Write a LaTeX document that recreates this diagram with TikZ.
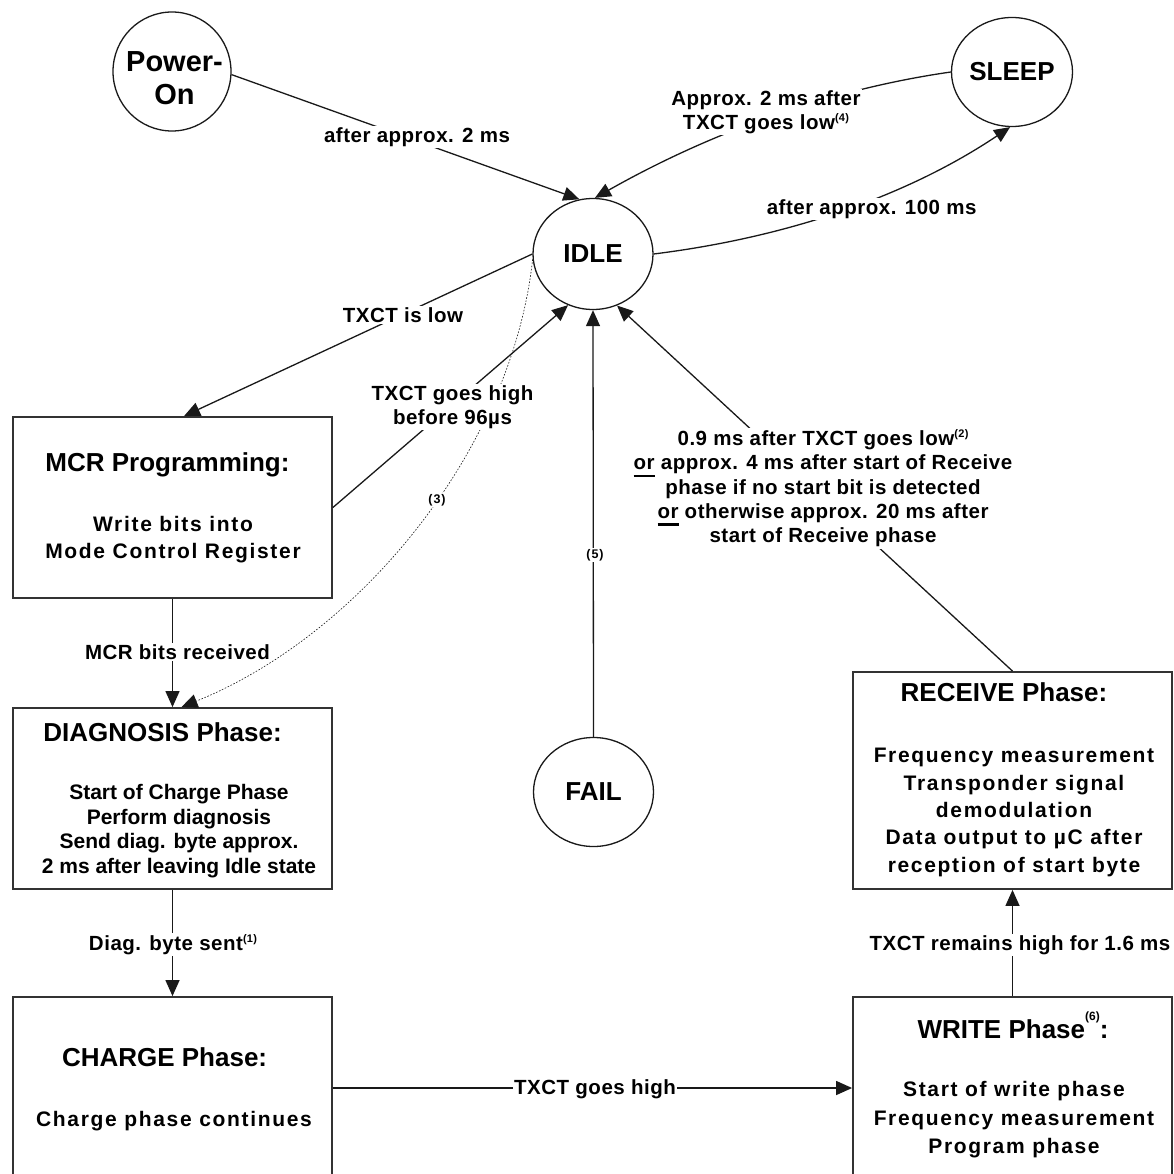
\documentclass[tikz,border=0pt]{standalone}
\usepackage{fontspec}
\setmainfont{Liberation Sans}
\newfontfamily\bodyspaced[LetterSpace=8]{Liberation Sans}
\newfontfamily\labelspaced[LetterSpace=2.5]{Liberation Sans}
\usetikzlibrary{arrows.meta,shapes.geometric}
\newcommand\sups[2][7.5pt]{\raisebox{#1}{\fontsize{11}{11}\selectfont #2}}
\newcommand\supsix[1]{\raisebox{17.5pt}{\fontsize{12}{12}\selectfont #1}}
\newcommand\ulw[1]{\setbox0=\hbox{#1}\rlap{\rule[-7.2pt]{\wd0}{2.4pt}}\box0\relax}
\begin{document}
\begin{tikzpicture}[x=1pt,y=-1pt,
  statenode/.style={ellipse, draw=black!90, line width=1.3pt, inner sep=0pt, font=\bfseries\fontsize{26}{30}\selectfont},
  phasebox/.style={rectangle, draw=black!80, line width=1.8pt, inner sep=0pt},
  conn/.style={draw=black!90, line width=1.3pt, -{Triangle[length=16pt,width=14pt]}},
  dotconn/.style={draw=black!90, line width=0.6pt, dash pattern=on 1.6pt off 1.6pt, -{Triangle[length=16pt,width=14pt]}},
  titletext/.style={anchor=base, inner sep=0pt, font=\bfseries\fontsize{26}{30}\selectfont},
  bodytext/.style={anchor=north, inner sep=0pt, align=center, font=\bfseries\fontsize{21}{#1}\selectfont},
  bodytext/.default=26pt,
  spacedbody/.style={anchor=north, inner sep=0pt, align=center, font=\bodyspaced\bfseries\fontsize{21}{#1}\selectfont},
  spacedbody/.default=26pt,
  elabel/.style={fill=white, inner sep=1.5pt, align=center, font=\labelspaced\bfseries\fontsize{20.5}{#1}\selectfont},
  elabel/.default=24.4pt,
  smalllabel/.style={fill=white, inner sep=1pt, font=\bodyspaced\bfseries\fontsize{12.5}{14}\selectfont}
]
\useasboundingbox (0,0) rectangle (1173,1174);

% states
\node[statenode, minimum width=118pt, minimum height=119pt] (pwr) at (172,71.5) {};
\node[statenode, minimum width=121pt, minimum height=109pt] (sleep) at (1012,72) {SLEEP};
\node[statenode, minimum width=120pt, minimum height=111pt] (idle) at (593,254) {IDLE};
\node[statenode, minimum width=120pt, minimum height=109pt] (fail) at (593.5,792) {FAIL};
\node[font=\bfseries\fontsize{29}{33.3}\selectfont, align=center, inner sep=0pt, anchor=north] (pwrtext) at (174.5,50.9) {Power-\\On};

% boxes
\node[phasebox, minimum width=319pt, minimum height=181pt] (mcr) at (172.5,507.5) {};
\node[phasebox, minimum width=319pt, minimum height=181pt] (diag) at (172.5,798.5) {};
\node[phasebox, minimum width=319pt, minimum height=182pt] (charge) at (172.5,1088) {};
\node[phasebox, minimum width=319pt, minimum height=217pt] (recv) at (1012.5,780.5) {};
\node[phasebox, minimum width=319pt, minimum height=182pt] (write) at (1012.5,1088) {};

% box texts
\node[titletext] (mcrtitle) at (167.5,471.7) {MCR Programming:};
\node[spacedbody=26.6pt] (mcrbody) at (173,516.4) {Write bits into\\Mode Control Register};
\node[titletext] (diagtitle) at (162.6,741.7) {DIAGNOSIS Phase:};
\node[bodytext=24.7pt] (diagbody) at (179,784) {Start of Charge Phase\\Perform diagnosis\\Send diag. byte approx.\\2 ms after leaving Idle state};
\node[titletext] (chargetitle) at (164.6,1066) {CHARGE Phase:};
\node[spacedbody=26pt, anchor=base] (chargebody) at (174,1126) {Charge phase continues};
\node[titletext] (recvtitle) at (1004,701.7) {RECEIVE Phase:};
\node[spacedbody=27.35pt] (recvbody) at (1014,748) {Frequency measurement\\Transponder signal\\demodulation\\Data output to µC after\\reception of start byte};
\node[titletext] (writetitle) at (1013,1038.3) {WRITE Phase\supsix{(6)}:};
\node[spacedbody=28.3pt] (writebody) at (1014,1081.4) {Start of write phase\\Frequency measurement\\Program phase};

% connectors
\draw[conn] (pwr.-3) -- (idle.104);
\draw[conn] (sleep.west) .. controls (832,89) and (713,131) .. (idle.88);
\draw[conn] (idle.east) .. controls (790,237) and (909,195) .. (sleep.-92);
\draw[conn] (idle.west) -- ([xshift=11.5pt]mcr.north);
\draw[conn] (mcr.east) -- (idle.-116);
\draw[dotconn] (idle.185) .. controls (512,450) and (360,635) .. ([xshift=9pt]diag.north);
\draw[conn] (mcr.south) -- (diag.north);
\draw[conn] (fail.north) -- (idle.south);
\draw[conn] (recv.north) -- (idle.-65);
\draw[conn] (diag.south) -- (charge.north);
\draw[conn] (charge.east) -- (write.west);
\draw[conn] (write.north) -- (recv.south);

% labels
\node[elabel, anchor=base] (lpwr) at (417,142.5) {after approx. 2 ms};
\node[elabel=24.3pt, anchor=north] (lsleep) at (766,88.5) {Approx. 2 ms after\\TXCT goes low\sups[8.3pt]{(4)}};
\node[elabel, anchor=base] (lidlesleep) at (871.6,214.3) {after approx. 100 ms};
\node[elabel, anchor=base] (llow) at (403,322) {TXCT is low};
\node[elabel=24pt, anchor=north] (lhigh) at (452.5,383.5) {TXCT goes high\\before 96µs};
\node[smalllabel] (lthree) at (437,500) {(3)};
\node[elabel, anchor=base] (lmcrbits) at (177.5,659.3) {MCR bits received};
\node[elabel, anchor=base] (ldiag) at (173,950) {Diag. byte sent\sups{(1)}};
\node[smalllabel] (lfive) at (595,555) {(5)};
\node[elabel=24.4pt, anchor=north] (lrecv) at (823,428.2) {0.9 ms after TXCT goes low\sups{(2)}\\\ulw{or} approx. 4 ms after start of Receive\\phase if no start bit is detected\\\ulw{or} otherwise approx. 20 ms after\\start of Receive phase};
\node[elabel, anchor=base] (lremains) at (1020,950) {TXCT remains high for 1.6 ms};
\node[elabel, anchor=base] (lgoeshigh) at (595,1094.3) {TXCT goes high};
\end{tikzpicture}
\end{document}
